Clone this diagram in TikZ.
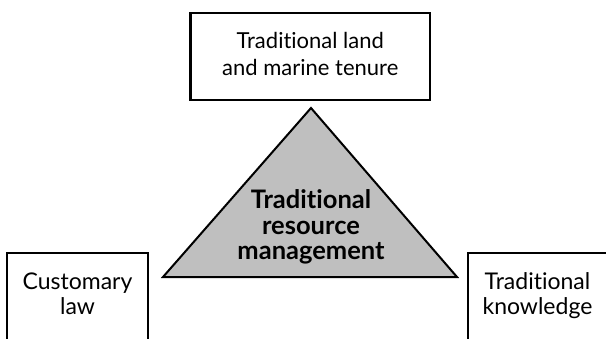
\documentclass[tikz,border=0pt]{standalone}
\usepackage{fontspec}
\setmainfont[Ligatures={NoCommon}]{Lato}
\begin{document}
\begin{tikzpicture}[x=1pt,y=-1pt,
  box/.style={draw=black, line width=2pt, fill=white, inner sep=0pt,
    minimum width=141pt, minimum height=87pt},
  lbl/.style={align=center, inner sep=0pt},
  smalltext/.style={lbl, font=\fontsize{22}{27}\selectfont},
  bigtext/.style={lbl, font=\fontsize{23}{24.5}\selectfont},
  boldtext/.style={lbl, font=\bfseries\fontsize{25.5}{25.5}\selectfont}]
\useasboundingbox (0,0) rectangle (606,338);
\clip (0,0) rectangle (606,338);
% central triangle
\coordinate (apex) at (311,108);
\coordinate (bl) at (163,277);
\coordinate (br) at (457,277);
\filldraw[fill=black!25, draw=black, line width=2pt, line join=miter]
  (apex) -- (bl) -- (br) -- cycle;
\node[boldtext] (trm) at (311,227) {Traditional\\resource\\management};
% surrounding boxes
\node[box, line width=2.5pt, minimum width=239.5pt] (tenure) at (310.25,56.5) {};
\node[smalltext] (tenuretext) at (310.25,53.5) {Traditional land\\and marine tenure};
\node[box] (law) at (77.5,296.5) {};
\node[bigtext] (lawtext) at (77.5,294) {Customary\\law};
\node[box] (know) at (538.5,296.5) {};
\node[bigtext] (knowtext) at (537.5,295.5) {Traditional\\knowledge};
\end{tikzpicture}
\end{document}
